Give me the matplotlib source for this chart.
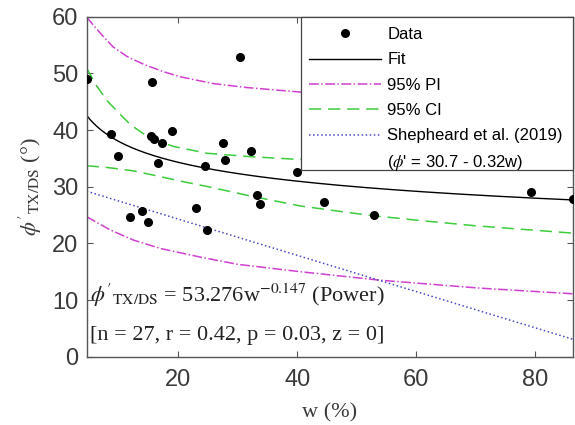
import matplotlib
matplotlib.use("Agg")
import matplotlib.pyplot as plt
from matplotlib.patches import Rectangle
import numpy as np

# measured points: water content w (%) vs phi'_TX/DS (deg)
w_data = [4.6, 15.6, 30.3, 8.6, 9.9, 15.4, 15.9, 17.3, 18.9, 16.6, 24.5, 27.5, 27.9,
          11.9, 13.9, 14.9, 22.9, 24.9, 32.2, 40.0, 33.2, 33.7, 44.5, 52.9, 79.3, 86.4]
phi_data = [49.0, 48.4, 52.9, 39.3, 35.5, 38.9, 38.4, 37.8, 39.9, 34.2, 33.7, 37.8, 34.7,
            24.7, 25.7, 23.8, 26.2, 22.4, 36.3, 32.6, 28.6, 27.0, 27.3, 25.0, 29.1, 27.8]

# power fit phi = a * w^b (from the annotation)
fit_a = 53.276
fit_b = -0.147

# confidence / prediction bands
ci_up_w = [4.6, 6.2, 8.0, 10.1, 12.0, 15.2, 19.2, 24.8, 32.1, 40.5, 55.0, 70.0, 86.4]
ci_up_phi = [50.9, 47.9, 45.2, 42.9, 40.9, 38.6, 37.1, 35.9, 35.3, 34.8, 34.4, 34.2, 34.1]
ci_lo_w = [4.6, 8.0, 12.4, 16.0, 20.3, 25.0, 31.5, 40.5, 51.7, 60.0, 70.0, 86.4]
ci_lo_phi = [33.7, 33.4, 32.8, 32.0, 31.0, 30.0, 28.5, 26.6, 25.0, 24.1, 23.1, 21.8]
pi_up_w = [4.6, 6.7, 9.0, 11.5, 14.4, 17.5, 20.3, 25.9, 31.5, 40.5, 55.0, 70.0, 86.4]
pi_up_phi = [59.9, 57.3, 54.7, 52.9, 51.5, 50.3, 49.4, 48.2, 47.5, 46.7, 45.9, 45.4, 45.0]
pi_lo_w = [4.6, 8.5, 12.4, 17.0, 23.6, 30.0, 40.5, 53.9, 70.7, 86.4]
pi_lo_phi = [24.7, 22.4, 20.6, 19.1, 17.6, 16.3, 15.0, 13.5, 12.1, 11.1]

# Shepheard et al. (2019): phi' = 30.7 - 0.32w, end values
shep_w = [4.6, 86.4]
shep_phi = [29.2, 3.05]

plt.rcParams["mathtext.fontset"] = "stix"
plt.rcParams["font.family"] = ["Liberation Sans", "DejaVu Sans"]

fig = plt.figure(figsize=(5.75, 4.25), dpi=100)
ax = fig.add_axes([0.1508, 0.1607, 0.8462, 0.8])

w_fit = np.linspace(min(w_data), max(w_data), 300)
ax.plot(w_data, phi_data, "o", color="black", markersize=5.5, label="Data", zorder=5)
ax.plot(w_fit, fit_a * w_fit ** fit_b, "-", color="black", lw=1.0, label="Fit")
ax.plot(pi_up_w, pi_up_phi, "-.", color="#d040d0", lw=1.1, label="95% PI")
ax.plot(pi_lo_w, pi_lo_phi, "-.", color="#d040d0", lw=1.1)
ax.plot(ci_up_w, ci_up_phi, "--", color="#3ccc3c", lw=1.1, dashes=(8, 4.5), label="95% CI")
ax.plot(ci_lo_w, ci_lo_phi, "--", color="#3ccc3c", lw=1.1, dashes=(8, 4.5))
ax.plot(shep_w, shep_phi, ":", color="#4a4ac8", lw=1.1, label="Shepheard et al. (2019)")

ax.set_xlim(4.6, 86.4)
ax.set_ylim(0, 60)
ax.set_xticks([20, 40, 60, 80])
ax.set_yticks(range(0, 61, 10))

spine_col = "#555555"
for s in ax.spines.values():
    s.set_color(spine_col)
    s.set_linewidth(1.0)
ax.tick_params(direction="in", top=True, right=True, length=4, width=0.8,
               colors=spine_col, labelcolor="#3a3a3a", labelsize=17)
ax.tick_params(axis="x", pad=9)
ax.tick_params(axis="y", pad=6)

serif = ["Liberation Serif", "DejaVu Serif"]
ax.set_xlabel("w (%)", family=serif, fontsize=16, color="#3a3a3a", labelpad=9)
ax.set_ylabel(r"$\phi'_{\mathrm{TX/DS}}$ (°)", family=serif, fontsize=16,
              color="#3a3a3a", labelpad=6)

ax.text(0.006, 0.162, r"$\phi'_{\mathrm{TX/DS}}$ = 53.276w$^{-0.147}$ (Power)",
        transform=ax.transAxes, family=serif, fontsize=16, va="baseline", ha="left",
        color="#222222")
ax.text(0.006, 0.049, "[n = 27, r = 0.42, p = 0.03, z = 0]",
        transform=ax.transAxes, family=serif, fontsize=16, va="baseline", ha="left",
        color="#222222")

# legend box drawn by hand so the two-line Shepheard entry sits like the original
box = Rectangle((0.4398, 0.549), 0.5602, 0.451, transform=ax.transAxes,
                facecolor="white", edgecolor="#444444", lw=0.9, zorder=8, clip_on=False)
ax.add_patch(box)
leg = ax.legend(loc="upper right", bbox_to_anchor=(1, 1), borderaxespad=0,
                fontsize=12, frameon=False, handlelength=4.3, handletextpad=0.4,
                labelspacing=0.62, borderpad=0.62)
leg.set_zorder(10)
ax.text(0.6165, 0.5697, r"($\phi$' = 30.7 - 0.32w)", transform=ax.transAxes,
        fontsize=12, va="center", ha="left", color="black", zorder=11)

fig.savefig("out.png", dpi=100)
